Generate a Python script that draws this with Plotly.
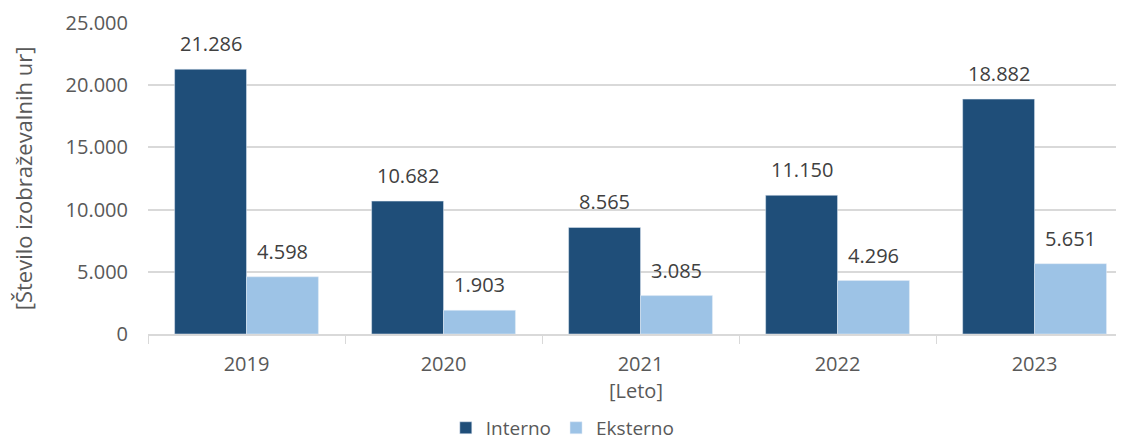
import plotly.graph_objects as go

# podatki
leta = ["2019", "2020", "2021", "2022", "2023"]
interno = [21286, 10682, 8565, 11150, 18882]
eksterno = [4598, 1903, 3085, 4296, 5651]
y_ticks = [0, 5000, 10000, 15000, 20000, 25000]

font_col = "#595959"
grid_col = "#d9d9d9"
fnt = "Open Sans"


def fmt(v):
    return f"{v:,}".replace(",", ".")


fig = go.Figure()
fig.add_trace(go.Bar(x=leta, y=interno, name="Interno", marker_color="#1f4e79"))
fig.add_trace(go.Bar(x=leta, y=eksterno, name="Eksterno", marker_color="#9dc3e6"))

# oznake vrednosti nad stolpci (x kot indeks kategorije)
for serija, shift in ((interno, -36), (eksterno, 36)):
    for i, v in enumerate(serija):
        fig.add_annotation(x=i, y=v, xref="x", yref="y", text=fmt(v), showarrow=False,
                           xshift=shift, yshift=10, yanchor="bottom",
                           font=dict(family=fnt, size=20, color="#404040"))

# stran ima 8px roba, zato so robovi zamaknjeni
fig.update_layout(
    width=1124, height=444,
    margin=dict(l=140, r=8, t=15, b=118, autoexpand=False),
    paper_bgcolor="white", plot_bgcolor="white",
    separators=",.",
    barmode="group", bargap=0.27, bargroupgap=0,
    font=dict(family=fnt, size=20, color=font_col),
    showlegend=True,
    legend=dict(orientation="h", x=0.425, xanchor="center", y=-0.302, yanchor="middle",
                font=dict(size=19, color=font_col), itemwidth=30, traceorder="normal"),
    xaxis=dict(type="category", range=[-0.5, 4.454], showline=True, linecolor=grid_col,
               linewidth=1.5, ticks="outside", tickson="boundaries", ticklen=8,
               tickcolor=grid_col, automargin=False, ticklabelstandoff=11,
               tickfont=dict(size=20, color=font_col),
               title=dict(text="[Leto]", font=dict(size=20, color=font_col), standoff=8)),
    yaxis=dict(range=[0, 25000], tickvals=y_ticks, separatethousands=True, tickformat=",d",
               showgrid=True, gridcolor=grid_col, gridwidth=1.5, zeroline=False,
               automargin=False, tickfont=dict(size=20, color=font_col), ticklabelstandoff=19,
               title=dict(text="[Število izobraževalnih ur]", font=dict(size=22, color=font_col),
                          standoff=26)),
)

fig.write_html("out.html")
